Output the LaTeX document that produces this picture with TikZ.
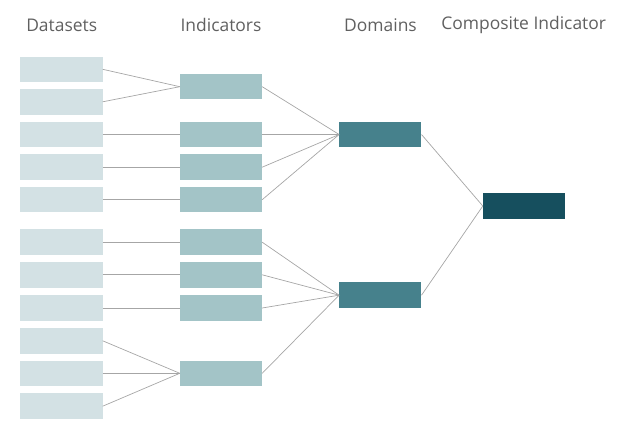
\documentclass[tikz,border=0pt]{standalone}
\usepackage{fontspec}
\setmainfont{Open Sans}
\definecolor{dscol}{HTML}{D3E1E4}
\definecolor{incol}{HTML}{A3C4C7}
\definecolor{docol}{HTML}{46818C}
\definecolor{cocol}{HTML}{164F5E}
\definecolor{lncol}{HTML}{A6A6A6}
\definecolor{txcol}{HTML}{606060}
\begin{document}
\begin{tikzpicture}[x=1bp,y=-1bp,
  box/.style={rectangle,inner sep=0pt,minimum width=82bp,minimum height=25.5bp},
  dsbox/.style={box,fill=dscol},
  inbox/.style={box,fill=incol},
  dobox/.style={box,fill=docol},
  cobox/.style={box,fill=cocol},
  link/.style={draw=lncol,line width=0.7bp},
  head/.style={text=txcol,font=\fontsize{17.5}{19}\selectfont,inner sep=0pt}]
\useasboundingbox (0,0) rectangle (619,441);
% headers
\node[head] (h1) at (61.7,25) {Datasets};
\node[head] (h2) at (221,25) {Indicators};
\node[head] (h3) at (380.5,25) {Domains};
\node[head] (h4) at (523.7,25) {Composite Indicator};
% datasets
\foreach \i/\y in {1/69.3,2/101.8,3/134.5,4/167.2,5/199.7,6/242.2,7/274.8,8/308,9/340.8,10/373.3,11/406.2}
  \node[dsbox] (d\i) at (61.5,\y) {};
% indicators
\foreach \i/\y in {1/86.7,2/134.5,3/167.2,4/199.7,5/242.2,6/274.8,7/308,8/373.3}
  \node[inbox] (n\i) at (221,\y) {};
% domains
\node[dobox] (m1) at (380.3,134.5) {};
\node[dobox] (m2) at (380.3,295.2) {};
% composite
\node[cobox] (c) at (524,206) {};
% links datasets -> indicators
\foreach \a/\b in {1/1,2/1,3/2,4/3,5/4,6/5,7/6,8/7,9/8,10/8,11/8}
  \draw[link] (d\a.east) -- (n\b.west);
% indicators -> domains
\foreach \a in {1,2,3,4}
  \draw[link] (n\a.east) -- (m1.west);
\foreach \a in {5,6,7,8}
  \draw[link] (n\a.east) -- (m2.west);
% domains -> composite
\draw[link] (m1.east) -- (c.west);
\draw[link] (m2.east) -- (c.west);
\end{tikzpicture}
\end{document}
